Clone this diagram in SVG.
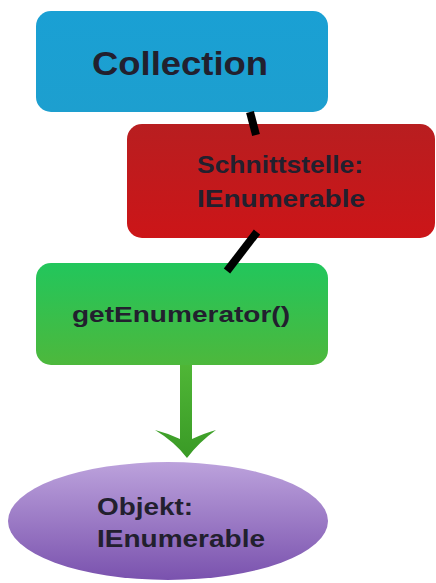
<svg xmlns="http://www.w3.org/2000/svg" width="436" height="583" viewBox="0 0 436 583">
<defs>
<linearGradient id="gBlue" x1="0" y1="0" x2="0" y2="1"><stop offset="0" stop-color="#1aa0d4"/><stop offset="1" stop-color="#1d9fcf"/></linearGradient>
<linearGradient id="gRed" x1="0" y1="0" x2="0" y2="1"><stop offset="0" stop-color="#b81e20"/><stop offset="1" stop-color="#cc1518"/></linearGradient>
<linearGradient id="gGreen" x1="0" y1="0" x2="0" y2="1"><stop offset="0" stop-color="#22c65c"/><stop offset="1" stop-color="#4db83c"/></linearGradient>
<linearGradient id="gArrow" x1="0" y1="0" x2="0" y2="1"><stop offset="0" stop-color="#4fb636"/><stop offset="1" stop-color="#3a9a26"/></linearGradient>
<linearGradient id="gPurple" x1="0" y1="0" x2="0" y2="1"><stop offset="0" stop-color="#bca2dc"/><stop offset="1" stop-color="#7a52ae"/></linearGradient>
</defs>
<style>
text{font-family:"Liberation Sans","DejaVu Sans",sans-serif;font-weight:bold;fill:#22202e;}
.conn{stroke:#000;stroke-width:8;fill:none;}
</style>
<rect width="436" height="583" fill="#ffffff"/>
<g id="collection">
<rect x="36" y="11" width="292" height="101" rx="15" fill="url(#gBlue)"/>
<text x="92" y="75" font-size="34" textLength="176" lengthAdjust="spacingAndGlyphs">Collection</text>
</g>
<g id="schnittstelle">
<rect x="127" y="124" width="308" height="114" rx="15" fill="url(#gRed)"/>
<text x="197" y="173" font-size="23" textLength="166" lengthAdjust="spacingAndGlyphs">Schnittstelle:</text>
<text x="197" y="207" font-size="23" textLength="168" lengthAdjust="spacingAndGlyphs">IEnumerable</text>
</g>
<g id="getEnumerator">
<rect x="36" y="263" width="292" height="102" rx="15" fill="url(#gGreen)"/>
<text x="72" y="322" font-size="22" textLength="218" lengthAdjust="spacingAndGlyphs">getEnumerator()</text>
</g>
<g id="objekt">
<ellipse cx="168" cy="521" rx="160" ry="59" fill="url(#gPurple)"/>
<text x="97" y="515" font-size="23" textLength="96" lengthAdjust="spacingAndGlyphs">Objekt:</text>
<text x="97" y="547" font-size="23" textLength="168" lengthAdjust="spacingAndGlyphs">IEnumerable</text>
</g>
<g id="connectors">
<line class="conn" x1="250" y1="112" x2="256" y2="135"/>
<line class="conn" x1="257" y1="232" x2="227" y2="271"/>
<path d="M180,365 L192,365 L192,439 Q205,433 216,430 Q199,442 187,458 Q175,442 155,430 Q167,433 180,439 Z" fill="url(#gArrow)"/>
</g>
</svg>
